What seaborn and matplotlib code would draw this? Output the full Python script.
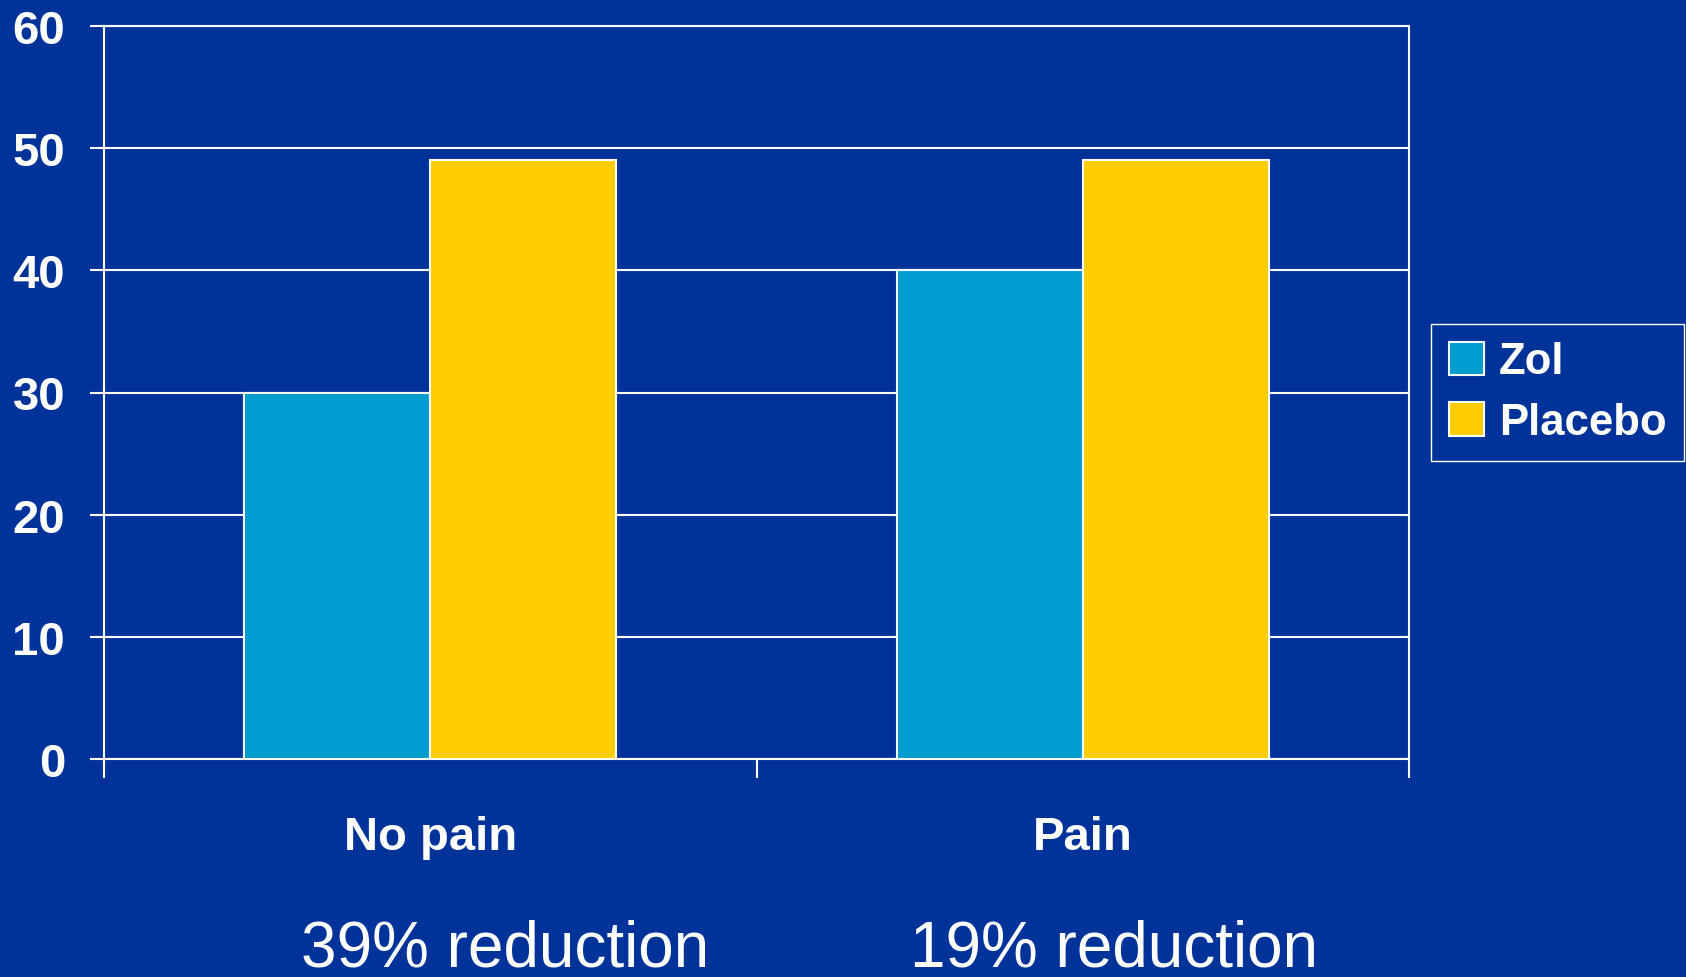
import numpy as np
import pandas as pd
import matplotlib.pyplot as plt
import seaborn as sns

# Datos del grafico
categories = ['No pain', 'Pain']
series = ['Zol', 'Placebo']
zol_values = [30, 40]
placebo_values = [49, 49]
reductions = ['39% reduction', '19% reduction']
y_ticks = [0, 10, 20, 30, 40, 50, 60]

bg = '#003399'
palette = {'Zol': '#009BCF', 'Placebo': '#FFCC00'}

df = pd.DataFrame({
    'group': categories * 2,
    'serie': ['Zol'] * len(categories) + ['Placebo'] * len(categories),
    'value': zol_values + placebo_values,
})

sns.set_style('white')
plt.rcParams['font.family'] = ['Liberation Sans', 'DejaVu Sans']

fig = plt.figure(figsize=(16.86, 9.78), dpi=100, facecolor=bg)
ax = fig.add_axes([104 / 1686, 1 - 760 / 978, (1409 - 104) / 1686, (760 - 27) / 978])
ax.set_facecolor(bg)

sns.barplot(data=df, x='group', y='value', hue='serie', hue_order=series,
            palette=palette, width=0.57, edgecolor='white', linewidth=1.5,
            saturation=1, ax=ax, zorder=3)

ax.set_ylim(0, 60)
ax.set_xlim(-0.5, len(categories) - 0.5)
ax.set_yticks(y_ticks)
ax.set_yticklabels([str(t) for t in y_ticks], fontsize=34, fontweight='bold', color='white')
ax.yaxis.grid(True, color='white', linewidth=1.5, zorder=0)
ax.set_axisbelow(True)
ax.tick_params(axis='y', length=10, width=1.5, color='white', pad=18, direction='out', left=True)

ax.set_xticks(range(len(categories)))
ax.set_xticklabels(categories, fontsize=34, fontweight='bold', color='white')
ax.tick_params(axis='x', length=0, pad=40)
ax.set_xticks(np.arange(-0.5, len(categories)), minor=True)
ax.tick_params(axis='x', which='minor', length=14, width=1.5, color='white', direction='out', bottom=True)
ax.set_xlabel('')
ax.set_ylabel('')

for s in ax.spines.values():
    s.set_visible(True)
    s.set_color('white')
    s.set_linewidth(1.5)

ax.legend(loc='upper left', bbox_to_anchor=(1431 / 1686, 1 - 325 / 978),
          bbox_transform=fig.transFigure, borderaxespad=0, frameon=True,
          facecolor=bg, edgecolor='white', fancybox=False, framealpha=1,
          prop={'size': 31.5, 'weight': 'bold'}, labelcolor='white',
          handlelength=0.8, handleheight=0.8, handletextpad=0.35,
          labelspacing=0.45, borderpad=0.4)

for x, txt in zip([505 / 1686, 1114 / 1686], reductions):
    fig.text(x, 0.012, txt, ha='center', va='baseline', fontsize=46, color='white')

fig.savefig('out.png', dpi=100, facecolor=bg)
